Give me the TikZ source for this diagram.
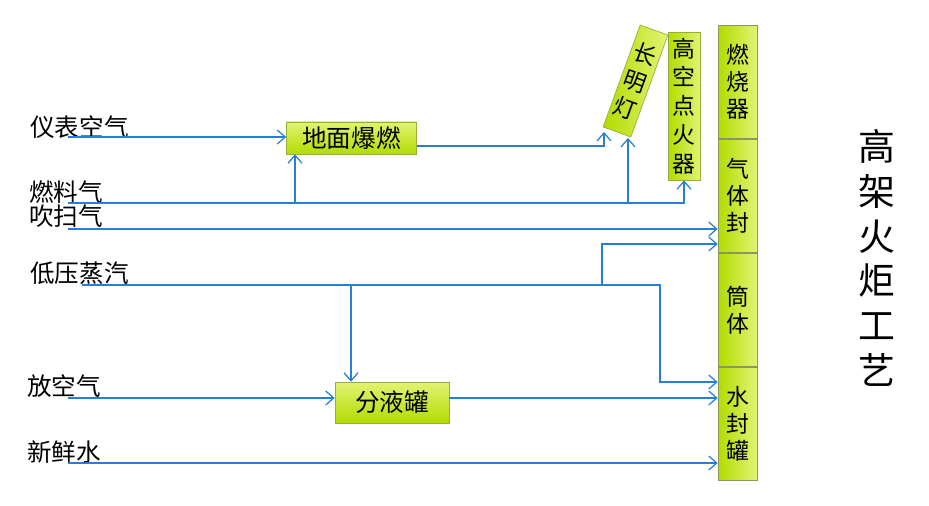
\documentclass[tikz,border=0pt]{standalone}
\usepackage{fontspec}
\setmainfont{Noto Sans CJK SC}
\usepackage{xcolor}
\usetikzlibrary{arrows.meta, positioning}
\definecolor{limeA}{RGB}{178,220,0}
\definecolor{limeB}{RGB}{226,243,115}
\definecolor{limeEdge}{RGB}{150,175,60}
\definecolor{flowblue}{RGB}{40,125,215}
\begin{document}
\begin{tikzpicture}[
    x=0.02cm, y=-0.02cm,
    block/.style={rectangle, draw=limeEdge, line width=0.4pt, top color=limeB, bottom color=limeA, inner sep=0pt, align=center, font=\fontsize{14}{16}\selectfont},
    vblock/.style={block, left color=limeA, right color=limeB, font=\fontsize{13}{16}\selectfont},
    seg/.style={vblock, draw=gray!50!limeEdge, minimum width=0.78cm, minimum height=2.265cm, font=\fontsize{13}{15.3}\selectfont},
    inlabel/.style={anchor=west, inner sep=0pt, font=\fontsize{14}{16}\selectfont},
    line/.style={draw=flowblue, line width=0.7pt, -{Straight Barb[length=1.6mm,width=2.8mm]}},
]
\useasboundingbox (0,0) rectangle (929,506);

% flare column
\node [seg, anchor=north] (rsq) at (737.5,25) {燃\\烧\\器};
\node [seg, below=0pt of rsq] (qtf) {气\\体\\封};
\node [seg, below=0pt of qtf] (tt) {筒\\体};
\node [seg, below=0pt of tt] (sfg) {水\\封\\罐};

\node [vblock, minimum width=0.64cm, minimum height=2.96cm, font=\fontsize{13}{16.4}\selectfont] (gk) at (684,106) {高\\空\\点\\火\\器};
\node [vblock, minimum width=0.59cm, minimum height=2.17cm, rotate=-20, font=\fontsize{13}{16.4}\selectfont] (cmd) at (635.5,81) {长\\明\\灯};

\node [block, minimum width=2.6cm, minimum height=0.64cm] (dm) at (351.5,138) {地面爆燃};
\node [block, minimum width=2.28cm, minimum height=0.82cm] (fy) at (392,402.5) {分液罐};

\node [align=center, inner sep=0pt, font=\fontsize{21}{25.5}\selectfont] (title) at (877,258) {高\\架\\火\\炬\\工\\艺};

% inputs
\node [inlabel] (l1) at (30,127) {仪表空气};
\node [inlabel] (l2) at (29,192) {燃料气};
\node [inlabel] (l3) at (29,216) {吹扫气};
\node [inlabel] (l4) at (30,273) {低压蒸汽};
\node [inlabel] (l5) at (27,386) {放空气};
\node [inlabel] (l6) at (27,452) {新鲜水};

\coordinate (s1) at (68,137);
\coordinate (s2) at (68,203);
\coordinate (s3) at (68,229);
\coordinate (s4) at (82,285);
\coordinate (s5) at (68,398);
\coordinate (s6) at (68,463);

\coordinate (b1) at (295,203);
\coordinate (b2) at (628,203);
\coordinate (e2) at (628,138);
\coordinate (j1) at (604,146);
\coordinate (e1) at (604,132);
\coordinate (k1) at (660,285);
\coordinate (t1) at (660,382);
\coordinate (k2) at (602,285);
\coordinate (t2) at (602,244);
\coordinate (k3) at (351,285);

\path [line] (s1) -- (s1 -| dm.west);
\path [line] (s2) -| (gk.south);
\path [line] (b1) -- (b1 |- dm.south);
\path [line] (b2) -- (e2);
\path [line] (dm.east |- j1) -- (j1) -- (e1);
\path [line] (s3) -- (s3 -| qtf.west);
\path [line] (s4) -- (k1) -- (t1) -- (t1 -| sfg.west);
\path [line] (k2) -- (t2) -- (t2 -| qtf.west);
\path [line] (k3) -- (k3 |- fy.north);
\path [line] (s5) -- (s5 -| fy.west);
\path [line] (fy.east |- s5) -- (s5 -| sfg.west);
\path [line] (s6) -- (s6 -| sfg.west);
\end{tikzpicture}
\end{document}
